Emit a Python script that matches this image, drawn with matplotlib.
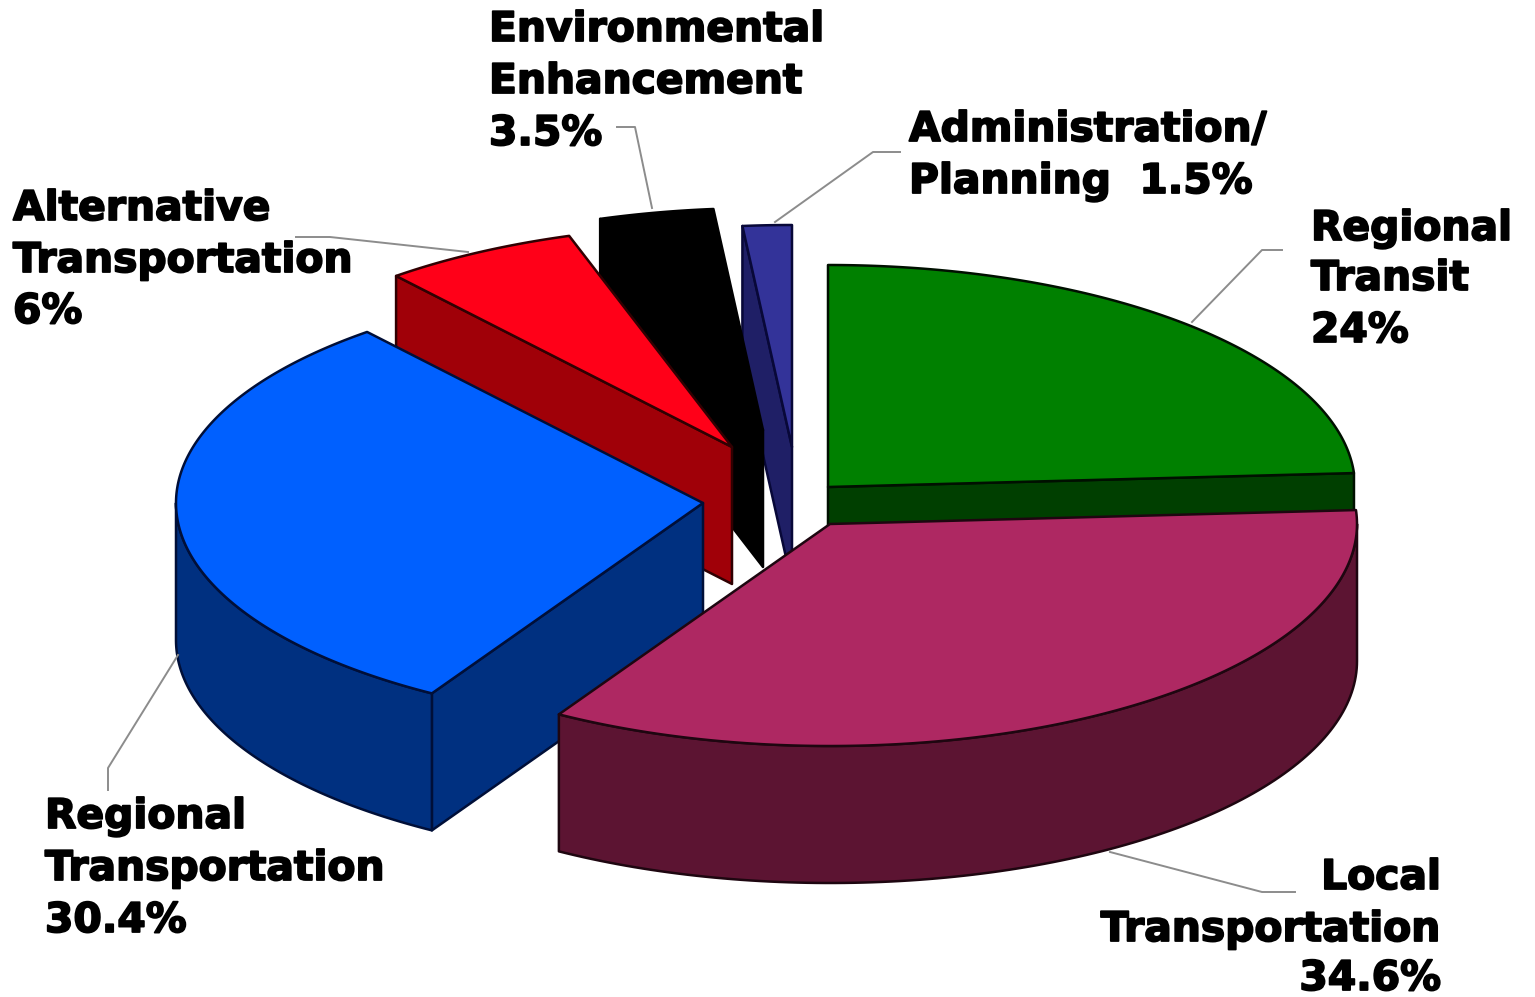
"""
Exploded 3D style pie of the program shares
"""

import numpy as np
import matplotlib.pyplot as plt
import matplotlib.patheffects as pe
from matplotlib.patches import Polygon

# values, clockwise from 12 o'clock
segments = ["Regional Transit", "Local Transportation", "Regional Transportation",
            "Alternative Transportation", "Environmental Enhancement", "Administration/Planning"]
shares = [24, 34.6, 30.4, 6, 3.5, 1.5]

top_colors = ["#008000", "#AE2862", "#0060FF", "#FF0018", "#000000", "#333399"]
side_colors = ["#003F00", "#5C1432", "#003080", "#A00008", "#000000", "#1F1F66"]
edge_colors = ["#001000", "#1E0610", "#000F38", "#300002", "#000000", "#080838"]

# apex of each exploded slice on the canvas
apex_x = [828, 830, 703, 732, 763, 792]
apex_y = [487, 524, 503, 447, 430, 447]

RX = 527
RY = 222
DEPTH = 137

# back to front
draw_order = [5, 4, 3, 2, 0, 1]

label_lines = [
    (["Regional", "Transit", "24%"], 1311, [240, 290, 342], "left"),
    (["Local", "Transportation", "34.6%"], 1441, [889, 941, 990], "right"),
    (["Regional", "Transportation", "30.4%"], 45, [828, 880, 932], "left"),
    (["Alternative", "Transportation", "6%"], 13, [220, 272, 323], "left"),
    (["Environmental", "Enhancement", "3.5%"], 489, [41, 93, 145], "left"),
    (["Administration/", "Planning  1.5%"], 909, [141, 193], "left"),
]

leaders = [
    ([1282, 1262, 1192], [250, 250, 322]),
    ([1295, 1262, 1110], [892, 892, 852]),
    ([108, 108, 178], [790, 768, 655]),
    ([296, 330, 468], [237, 237, 252]),
    ([617, 635, 652], [127, 127, 208]),
    ([900, 873, 775], [152, 152, 222]),
]


def rim(cx, cy, angles):
    """points on the top ellipse for angles in degrees clockwise from top"""
    rad = np.radians(angles)
    return cx + RX * np.sin(rad), cy - RY * np.cos(rad)


def add_face(ax, xs, ys, color, edge):
    ax.add_patch(Polygon(np.column_stack([xs, ys]), closed=True, facecolor=color,
                         edgecolor=edge, linewidth=1.8, joinstyle="round"))


def draw_slice(ax, i, start, end):
    cx, cy = apex_x[i], apex_y[i]
    side, top, edge = side_colors[i], top_colors[i], edge_colors[i]

    # radial faces, only when they look toward the viewer
    for angle, visible in ((start, np.sin(np.radians(start)) < 0),
                           (end, np.sin(np.radians(end)) > 0)):
        if visible:
            x, y = rim(cx, cy, angle)
            add_face(ax, [cx, x, x, cx], [cy, y, y + DEPTH, cy + DEPTH], side, edge)

    # outer wall, front half only
    wall_start, wall_end = max(start, 90), min(end, 270)
    if wall_start < wall_end:
        angles = np.linspace(wall_start, wall_end, 120)
        x, y = rim(cx, cy, angles)
        add_face(ax, np.r_[x, x[::-1]], np.r_[y, y[::-1] + DEPTH], side, edge)

    angles = np.linspace(start, end, 200)
    x, y = rim(cx, cy, angles)
    add_face(ax, np.r_[cx, x], np.r_[cy, y], top, edge)


def main():
    fig = plt.figure(figsize=(15.35, 9.97), dpi=100)
    ax = fig.add_axes([0, 0, 1, 1])
    ax.set_xlim(0, 1535)
    ax.set_ylim(997, 0)
    ax.axis("off")

    bounds = np.r_[0, np.cumsum(shares)] / sum(shares) * 360
    for i in draw_order:
        draw_slice(ax, i, bounds[i], bounds[i + 1])

    for xs, ys in leaders:
        ax.plot(xs, ys, color="#8c8c8c", linewidth=1.4, zorder=1)

    # the labels are heavier than DejaVu bold, so thicken them a little
    heavy = [pe.withStroke(linewidth=1.3, foreground="black")]
    for lines, x, baselines, align in label_lines:
        for line, y in zip(lines, baselines):
            ax.text(x, y, line, fontsize=29.4, fontweight="bold", family="DejaVu Sans",
                    color="black", ha=align, va="baseline", path_effects=heavy)

    fig.savefig("out.png", dpi=100)


main()
